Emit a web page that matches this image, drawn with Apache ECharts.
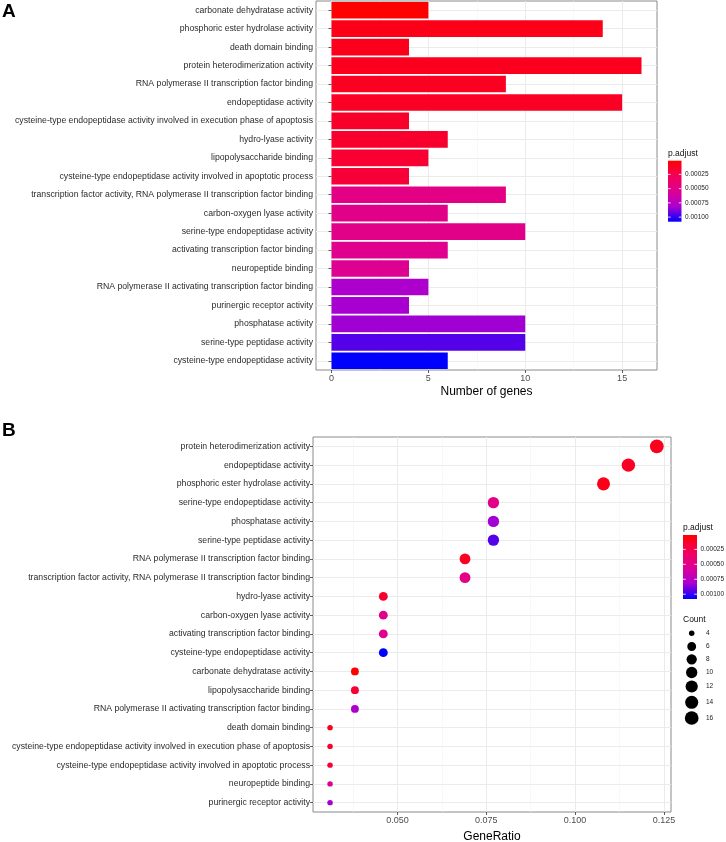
<!DOCTYPE html>
<html>
<head>
<meta charset="utf-8">
<script src="https://cdn.jsdelivr.net/npm/echarts@6/dist/echarts.min.js"></script>
<style>
html, body { margin: 0; padding: 0; background: #fff; }
#container { width: 726px; height: 842px; }
</style>
</head>
<body>
<div id="container"></div>
<script>
// panel A: bar chart, sorted by p.adjust (top to bottom)
var termsA = [
    'carbonate dehydratase activity',
    'phosphoric ester hydrolase activity',
    'death domain binding',
    'protein heterodimerization activity',
    'RNA polymerase II transcription factor binding',
    'endopeptidase activity',
    'cysteine-type endopeptidase activity involved in execution phase of apoptosis',
    'hydro-lyase activity',
    'lipopolysaccharide binding',
    'cysteine-type endopeptidase activity involved in apoptotic process',
    'transcription factor activity, RNA polymerase II transcription factor binding',
    'carbon-oxygen lyase activity',
    'serine-type endopeptidase activity',
    'activating transcription factor binding',
    'neuropeptide binding',
    'RNA polymerase II activating transcription factor binding',
    'purinergic receptor activity',
    'phosphatase activity',
    'serine-type peptidase activity',
    'cysteine-type endopeptidase activity'
];
var countsA = [5, 14, 4, 16, 9, 15, 4, 6, 5, 4, 9, 6, 10, 6, 4, 5, 4, 10, 10, 6];
var padjA = [0.00001, 0.00008, 0.00009, 0.00010, 0.00011, 0.00012, 0.00014, 0.00015, 0.00016, 0.00018,
             0.00048, 0.00050, 0.00050, 0.00052, 0.00054, 0.00080, 0.00082, 0.00083, 0.00095, 0.00108];

// panel B: dot plot, sorted by GeneRatio (top to bottom)
var termsB = [
    'protein heterodimerization activity',
    'endopeptidase activity',
    'phosphoric ester hydrolase activity',
    'serine-type endopeptidase activity',
    'phosphatase activity',
    'serine-type peptidase activity',
    'RNA polymerase II transcription factor binding',
    'transcription factor activity, RNA polymerase II transcription factor binding',
    'hydro-lyase activity',
    'carbon-oxygen lyase activity',
    'activating transcription factor binding',
    'cysteine-type endopeptidase activity',
    'carbonate dehydratase activity',
    'lipopolysaccharide binding',
    'RNA polymerase II activating transcription factor binding',
    'death domain binding',
    'cysteine-type endopeptidase activity involved in execution phase of apoptosis',
    'cysteine-type endopeptidase activity involved in apoptotic process',
    'neuropeptide binding',
    'purinergic receptor activity'
];
var ratioB = [0.123, 0.115, 0.108, 0.077, 0.077, 0.077, 0.069, 0.069, 0.046, 0.046,
              0.046, 0.046, 0.038, 0.038, 0.038, 0.031, 0.031, 0.031, 0.031, 0.031];
var countsB = [16, 15, 14, 10, 10, 10, 9, 9, 6, 6, 6, 6, 5, 5, 5, 4, 4, 4, 4, 4];
var padjB = [0.00010, 0.00012, 0.00008, 0.00050, 0.00083, 0.00095, 0.00011, 0.00048, 0.00015, 0.00050,
             0.00052, 0.00108, 0.00001, 0.00016, 0.00080, 0.00009, 0.00014, 0.00018, 0.00054, 0.00082];

var ticksA = [0, 5, 10, 15];
var minorA = [2.5, 7.5, 12.5];
var ticksB = [0.05, 0.075, 0.1, 0.125];
var minorB = [0.0375, 0.0625, 0.0875, 0.1125];
var padjTicks = [0.00025, 0.0005, 0.00075, 0.001];
var countTicks = [4, 6, 8, 10, 12, 14, 16];

var palette = ['#FF0000', '#F20058', '#DE0092', '#AC00D0', '#0000FF'];
var FONT = '"Liberation Sans", Arial, Helvetica, sans-serif';

var pMin = Math.min.apply(null, padjA);
var pMax = Math.max.apply(null, padjA);
var cMin = Math.min.apply(null, countsB);
var cMax = Math.max.apply(null, countsB);

// row positions of the discrete axes, used for the horizontal grid lines
var rowsA = termsA.map(function (t, i) { return i + 1; });
var rowsB = termsB.map(function (t, i) { return i + 1; });

// ggplot-like area scale, range 3..8
function dotSize(c) {
    var s = 3 + 5 * Math.sqrt((c - cMin) / (cMax - cMin));
    return 0.58 * (2.845 * s + 0.945);
}

function gradient() {
    return {
        type: 'linear', x: 0, y: 0, x2: 0, y2: 1,
        colorStops: palette.map(function (c, i) { return { offset: i / (palette.length - 1), color: c }; })
    };
}

// colour bar legend
function colorBar(x, top, w, h) {
    var els = [
        { type: 'text', x: x, y: top - 7.5, style: { text: 'p.adjust', fontSize: 8.5, fill: '#111', fontFamily: FONT, verticalAlign: 'middle' } },
        { type: 'rect', shape: { x: x, y: top, width: w, height: h }, style: { fill: gradient() } }
    ];
    padjTicks.forEach(function (v) {
        var y = top + (v - pMin) / (pMax - pMin) * h;
        els.push({ type: 'line', shape: { x1: x, y1: y, x2: x + w * 0.2, y2: y }, style: { stroke: '#fff', lineWidth: 0.8 } });
        els.push({ type: 'line', shape: { x1: x + w * 0.8, y1: y, x2: x + w, y2: y }, style: { stroke: '#fff', lineWidth: 0.8 } });
        els.push({ type: 'text', x: x + w + 3.5, y: y, style: { text: v.toFixed(5), fontSize: 6.5, fill: '#222', fontFamily: FONT, verticalAlign: 'middle' } });
    });
    return els;
}

var countKeyY = [633.3, 646.5, 659.3, 672.5, 686.5, 702.3, 718];
function countLegend(x) {
    var els = [
        { type: 'text', x: x, y: 619.3, style: { text: 'Count', fontSize: 8.5, fill: '#111', fontFamily: FONT, verticalAlign: 'middle' } }
    ];
    countTicks.forEach(function (c, i) {
        var d = dotSize(c);
        els.push({ type: 'circle', shape: { cx: x + 8.7, cy: countKeyY[i], r: d / 2 }, style: { fill: '#000' } });
        els.push({ type: 'text', x: x + 23, y: countKeyY[i], style: { text: String(c), fontSize: 6.5, fill: '#222', fontFamily: FONT, verticalAlign: 'middle' } });
    });
    return els;
}

var dom = document.getElementById('container');
var myChart = echarts.init(dom);

var catAxis = function (grid, terms) {
    return {
        gridIndex: grid,
        type: 'category',
        data: terms,
        inverse: true,
        axisLine: { show: false },
        axisTick: { show: true, alignWithLabel: true, interval: 0, length: 3, lineStyle: { color: '#333', width: 0.8 } },
        axisLabel: { interval: 0, fontSize: 8.7, color: '#2b2b2b', margin: 3, fontFamily: FONT },
        splitLine: { show: false }
    };
};

// hidden axis that only carries the grid lines through the row centres
var rowAxis = function (grid, rows) {
    return {
        gridIndex: grid,
        type: 'value',
        min: 0.5,
        max: rows.length + 0.5,
        inverse: true,
        axisLine: { show: false },
        axisTick: { show: false, customValues: rows },
        axisLabel: { show: false, customValues: rows },
        splitLine: { show: true, lineStyle: { color: '#EBEBEB', width: 1 } }
    };
};

var valAxis = function (grid, min, max, ticks, fmt, name, gap) {
    return {
        gridIndex: grid,
        type: 'value',
        min: min,
        max: max,
        name: name,
        nameLocation: 'middle',
        nameGap: gap,
        nameTextStyle: { fontSize: 12, color: '#000', fontFamily: FONT },
        axisLine: { show: false },
        axisTick: { show: true, length: 3, customValues: ticks, lineStyle: { color: '#333', width: 0.8 } },
        axisLabel: { customValues: ticks, fontSize: 9, color: '#4D4D4D', margin: 4, fontFamily: FONT, formatter: fmt },
        splitLine: { show: true, lineStyle: { color: '#EBEBEB', width: 1 } }
    };
};

var minorAxis = function (grid, min, max, ticks) {
    return {
        gridIndex: grid,
        type: 'value',
        min: min,
        max: max,
        axisLine: { show: false },
        axisTick: { show: false, customValues: ticks },
        axisLabel: { show: false, customValues: ticks },
        splitLine: { show: true, lineStyle: { color: '#F3F3F3', width: 0.6 } }
    };
};

var option = {
    animation: false,
    backgroundColor: '#fff',
    textStyle: { fontFamily: FONT },
    grid: [
        { left: 316, right: 69, top: 1, height: 369, show: true, borderColor: '#8a8a8a', borderWidth: 1, backgroundColor: '#fff', outerBoundsMode: 'none' },
        { left: 313, right: 55, top: 437, height: 375, show: true, borderColor: '#8a8a8a', borderWidth: 1, backgroundColor: '#fff', outerBoundsMode: 'none' }
    ],
    xAxis: [
        valAxis(0, -0.8, 16.8, ticksA, function (v) { return String(v); }, 'Number of genes', 16),
        valAxis(1, 0.0262, 0.127, ticksB, function (v) { return v.toFixed(3); }, 'GeneRatio', 19),
        minorAxis(0, -0.8, 16.8, minorA),
        minorAxis(1, 0.0262, 0.127, minorB)
    ],
    yAxis: [
        catAxis(0, termsA),
        catAxis(1, termsB),
        rowAxis(0, rowsA),
        rowAxis(1, rowsB)
    ],
    visualMap: [{
        type: 'continuous',
        show: false,
        seriesIndex: [0, 1],
        dimension: 2,
        min: pMin,
        max: pMax,
        inRange: { color: palette }
    }],
    series: [
        {
            type: 'bar',
            xAxisIndex: 0,
            yAxisIndex: 0,
            barWidth: '90%',
            encode: { x: 0, y: 1 },
            data: termsA.map(function (t, i) { return [countsA[i], t, padjA[i]]; }),
            z: 3
        },
        {
            type: 'scatter',
            xAxisIndex: 1,
            yAxisIndex: 1,
            encode: { x: 0, y: 1 },
            symbolSize: function (d) { return dotSize(d[3]); },
            itemStyle: { opacity: 1 },
            data: termsB.map(function (t, i) { return [ratioB[i], t, padjB[i], countsB[i]]; }),
            z: 3
        }
    ],
    graphic: [
        { type: 'text', left: 2, top: 2, style: { text: 'A', fontSize: 19, fontWeight: 'bold', fill: '#000', fontFamily: FONT } },
        { type: 'text', left: 2, top: 421, style: { text: 'B', fontSize: 19, fontWeight: 'bold', fill: '#000', fontFamily: FONT } }
    ].concat(colorBar(668, 160.7, 13.5, 61), colorBar(683, 535, 14, 64), countLegend(683))
};

myChart.setOption(option);
window.addEventListener('resize', myChart.resize);
</script>
</body>
</html>
